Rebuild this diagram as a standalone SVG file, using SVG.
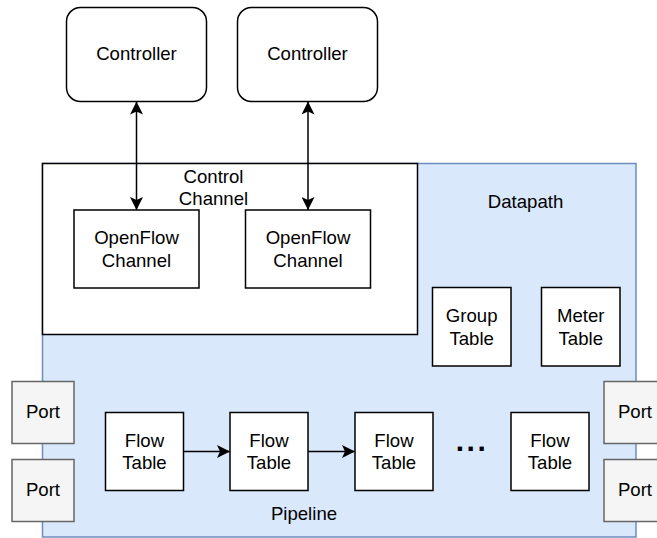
<svg xmlns="http://www.w3.org/2000/svg" width="657" height="538" viewBox="0 0 657 538">
  <style>
    text { font-family: "Liberation Sans", Arial, sans-serif; font-size: 18.6px; fill: #000; text-anchor: middle; }
    .box { fill: #ffffff; stroke: #000000; stroke-width: 1.5; }
    .port { fill: #f5f5f5; stroke: #666666; stroke-width: 1.5; }
    .datapath { fill: #dae8fc; stroke: #6c8ebf; stroke-width: 1.5; }
    .edge { fill: none; stroke: #000000; stroke-width: 1.5; }
    .dots { font-weight: bold; font-size: 30px; letter-spacing: 2.5px; }
  </style>
  <defs>
    <marker id="arrow" viewBox="0 0 13 13" refX="13" refY="6.5" markerWidth="13" markerHeight="13" markerUnits="userSpaceOnUse" orient="auto-start-reverse">
      <path d="M0,0 L13,6.5 L0,13 L3,6.5 Z" fill="#000000"/>
    </marker>
  </defs>

  <!-- datapath container -->
  <g id="datapath">
    <rect class="datapath" x="42.5" y="163.5" width="593.5" height="373.5"/>
    <text x="525.5" y="207.5">Datapath</text>
    <text x="304" y="520">Pipeline</text>
  </g>

  <!-- control channel container -->
  <g id="control-channel">
    <rect class="box" x="42.5" y="163.5" width="375" height="171"/>
    <text x="213.5" y="182.5">Control</text>
    <text x="213.5" y="205">Channel</text>
  </g>

  <g id="controller-1">
    <rect class="box" x="66.5" y="7.5" width="140" height="94" rx="14" ry="14"/>
    <text x="136.5" y="60">Controller</text>
  </g>
  <g id="controller-2">
    <rect class="box" x="237.5" y="7.5" width="140" height="94" rx="14" ry="14"/>
    <text x="307.5" y="60">Controller</text>
  </g>

  <g id="openflow-channel-1">
    <rect class="box" x="74" y="210" width="125" height="78"/>
    <text x="136.5" y="244.3">OpenFlow</text>
    <text x="136.5" y="266.7">Channel</text>
  </g>
  <g id="openflow-channel-2">
    <rect class="box" x="245.5" y="210" width="125" height="78"/>
    <text x="308" y="244.3">OpenFlow</text>
    <text x="308" y="266.7">Channel</text>
  </g>

  <g id="group-table">
    <rect class="box" x="432.5" y="287.5" width="78.5" height="78.5"/>
    <text x="471.7" y="321.7">Group</text>
    <text x="471.7" y="345">Table</text>
  </g>
  <g id="meter-table">
    <rect class="box" x="541.5" y="287.5" width="78.5" height="78.5"/>
    <text x="580.8" y="321.7">Meter</text>
    <text x="580.8" y="345">Table</text>
  </g>

  <g id="flow-table-1">
    <rect class="box" x="105.5" y="412.5" width="78" height="78"/>
    <text x="144.5" y="446.7">Flow</text>
    <text x="144.5" y="469.3">Table</text>
  </g>
  <g id="flow-table-2">
    <rect class="box" x="230" y="412.5" width="78" height="78"/>
    <text x="269" y="446.7">Flow</text>
    <text x="269" y="469.3">Table</text>
  </g>
  <g id="flow-table-3">
    <rect class="box" x="355" y="412.5" width="78" height="78"/>
    <text x="394" y="446.7">Flow</text>
    <text x="394" y="469.3">Table</text>
  </g>
  <g id="ellipsis">
    <text class="dots" x="472" y="451">...</text>
  </g>
  <g id="flow-table-n">
    <rect class="box" x="511" y="412.5" width="78" height="78"/>
    <text x="550" y="446.7">Flow</text>
    <text x="550" y="469.3">Table</text>
  </g>

  <g id="port-left-1">
    <rect class="port" x="12" y="381.5" width="62" height="62"/>
    <text x="43" y="418.3">Port</text>
  </g>
  <g id="port-left-2">
    <rect class="port" x="12" y="459.5" width="62" height="62"/>
    <text x="43" y="495.7">Port</text>
  </g>
  <g id="port-right-1">
    <rect class="port" x="604" y="381.5" width="62" height="62"/>
    <text x="635" y="418.3">Port</text>
  </g>
  <g id="port-right-2">
    <rect class="port" x="604" y="459.5" width="62" height="62"/>
    <text x="635" y="495.7">Port</text>
  </g>

  <!-- connectors -->
  <g id="connectors">
    <line class="edge" x1="136.5" y1="101.5" x2="136.5" y2="210" marker-start="url(#arrow)" marker-end="url(#arrow)"/>
    <line class="edge" x1="308" y1="101.5" x2="308" y2="210" marker-start="url(#arrow)" marker-end="url(#arrow)"/>
    <line class="edge" x1="183.5" y1="451.5" x2="230" y2="451.5" marker-end="url(#arrow)"/>
    <line class="edge" x1="308" y1="451.5" x2="355" y2="451.5" marker-end="url(#arrow)"/>
  </g>
</svg>
